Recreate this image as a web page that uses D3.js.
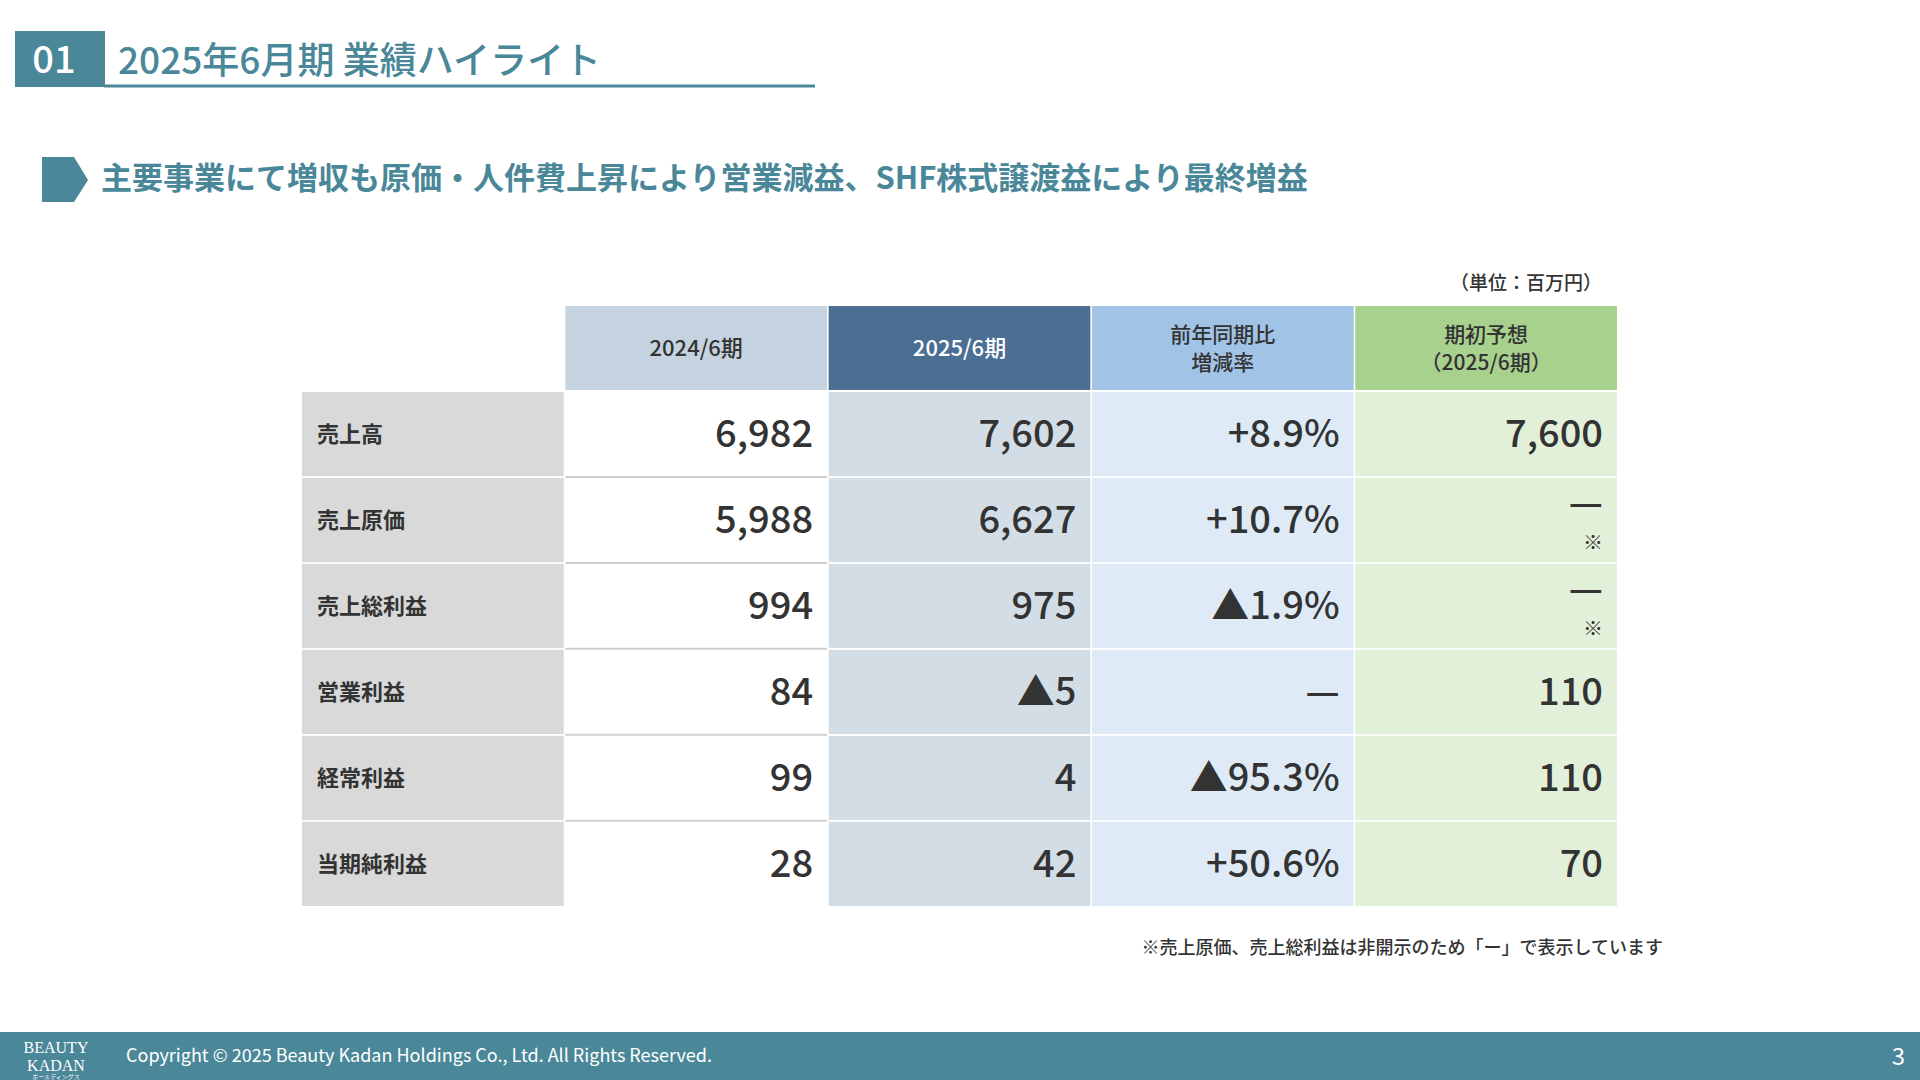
<!DOCTYPE html>
<html><head><meta charset="utf-8">
<script src="https://cdn.jsdelivr.net/npm/d3@7"></script>
<style>
body{margin:0;background:#fff;}
svg{display:block;font-family:"Noto Sans CJK JP","Noto Sans",sans-serif;}
</style></head>
<body><svg id="chart" width="1920" height="1080"></svg>
<script>
// table data
const rowLabels = ['売上高', '売上原価', '売上総利益', '営業利益', '経常利益', '当期純利益'];
const headers = [['2024/6期'], ['2025/6期'], ['前年同期比', '増減率'], ['期初予想', '（2025/6期）']];
const prevYear = ['6,982', '5,988', '994', '84', '99', '28'];
const curYear = ['7,602', '6,627', '975', '▲5', '4', '42'];
const changeRate = ['+8.9%', '+10.7%', '▲1.9%', '—', '▲95.3%', '+50.6%'];
const forecast = ['7,600', '—', '—', '110', '110', '70'];
const columns = [prevYear, curYear, changeRate, forecast];

const teal = '#4a8799';
const headFill = ['#c4d3df', '#4b6f92', '#a0c3e6', '#a9d18e'];
const headText = ['#333', '#fff', '#333', '#333'];
const bodyFill = ['#ffffff', '#d3dde6', '#deebf7', '#e2f0d9'];

const svg = d3.select('#chart');

// page header
svg.append('rect').attr('x', 15).attr('y', 31).attr('width', 90).attr('height', 56).attr('fill', teal);
svg.append('text').attr('x', 54).attr('y', 73).attr('text-anchor', 'middle')
    .attr('fill', '#fff').attr('font-size', 38).attr('font-weight', 500).text('01');
svg.append('line').attr('x1', 104).attr('x2', 815).attr('y1', 86).attr('y2', 86)
    .attr('stroke', teal).attr('stroke-width', 3);
svg.append('text').attr('x', 118).attr('y', 74).attr('fill', teal)
    .attr('font-size', 37).attr('font-weight', 500).text('2025年6月期 業績ハイライト');

// subtitle
svg.append('path').attr('d', 'M42,157 L74,157 L88,180 L74,202 L42,202 Z').attr('fill', teal);
svg.append('text').attr('x', 101).attr('y', 189).attr('fill', teal)
    .attr('font-size', 31).attr('font-weight', 700)
    .text('主要事業にて増収も原価・人件費上昇により営業減益、SHF株式譲渡益により最終増益');

// unit
svg.append('text').attr('x', 1602).attr('y', 290).attr('text-anchor', 'end')
    .attr('fill', '#333').attr('font-size', 19).attr('font-weight', 500).text('（単位：百万円）');

// scales
const x = d3.scaleBand().domain(d3.range(5)).range([302, 1617]).paddingInner(0.006);
const y = d3.scaleBand().domain(d3.range(6)).range([392, 906]).paddingInner(0.02);
const headTop = 306, headH = 84;

// header cells
headers.forEach((h, i) => {
    const cx = x(i + 1);
    svg.append('rect').attr('x', cx).attr('y', headTop).attr('width', x.bandwidth()).attr('height', headH)
        .attr('fill', headFill[i]);
    h.forEach((line, j) => {
        svg.append('text').attr('x', cx + x.bandwidth() / 2)
            .attr('y', headTop + headH / 2 + 8 + (j - (h.length - 1) / 2) * 28)
            .attr('text-anchor', 'middle').attr('fill', headText[i])
            .attr('font-size', h.length > 1 ? 21 : 22).attr('font-weight', 500).text(line);
    });
});

// body
rowLabels.forEach((label, r) => {
    const ry = y(r), rh = y.bandwidth();
    svg.append('rect').attr('x', x(0)).attr('y', ry).attr('width', x.bandwidth()).attr('height', rh)
        .attr('fill', '#d9d9d9');
    svg.append('text').attr('x', x(0) + 15).attr('y', ry + rh / 2 + 8)
        .attr('fill', '#333').attr('font-size', 22).attr('font-weight', 700).text(label);
    columns.forEach((col, c) => {
        const cx = x(c + 1);
        svg.append('rect').attr('x', cx).attr('y', ry).attr('width', x.bandwidth()).attr('height', rh)
            .attr('fill', bodyFill[c]);
        const v = col[r];
        const isNote = c === 3 && v === '—';
        svg.append('text').attr('x', cx + x.bandwidth() - 14)
            .attr('y', ry + rh / 2 + (isNote ? -4 : 13))
            .attr('text-anchor', 'end').attr('fill', '#333')
            .attr('font-size', 38).attr('font-weight', 500).text(v);
        if (isNote) {
            svg.append('text').attr('x', cx + x.bandwidth() - 14).attr('y', ry + rh / 2 + 30)
                .attr('text-anchor', 'end').attr('fill', '#333').attr('font-size', 20).text('※');
        }
    });
    if (r > 0) {
        svg.append('line').attr('x1', x(1)).attr('x2', x(1) + x.bandwidth())
            .attr('y1', ry - 1).attr('y2', ry - 1).attr('stroke', '#cfcfcf').attr('stroke-width', 2);
    }
});

// footnote
svg.append('text').attr('x', 1663).attr('y', 954).attr('text-anchor', 'end')
    .attr('fill', '#333').attr('font-size', 18).attr('font-weight', 500)
    .text('※売上原価、売上総利益は非開示のため「ー」で表示しています');

// footer
svg.append('rect').attr('x', 0).attr('y', 1032).attr('width', 1920).attr('height', 48).attr('fill', teal);
svg.append('text').attr('x', 56).attr('y', 1053).attr('text-anchor', 'middle').attr('fill', '#fff')
    .attr('font-family', 'Liberation Serif, serif').attr('font-size', 16).text('BEAUTY');
svg.append('text').attr('x', 56).attr('y', 1071).attr('text-anchor', 'middle').attr('fill', '#fff')
    .attr('font-family', 'Liberation Serif, serif').attr('font-size', 16).text('KADAN');
svg.append('text').attr('x', 56).attr('y', 1079).attr('text-anchor', 'middle').attr('fill', '#fff')
    .attr('font-size', 6).text('ホールディングス');
svg.append('text').attr('x', 126).attr('y', 1062).attr('fill', '#fff').attr('font-size', 18)
    .text('Copyright © 2025 Beauty Kadan Holdings Co., Ltd.  All Rights Reserved.');
svg.append('text').attr('x', 1905).attr('y', 1065).attr('text-anchor', 'end').attr('fill', '#fff')
    .attr('font-size', 24).text('3');
</script>
</body></html>
